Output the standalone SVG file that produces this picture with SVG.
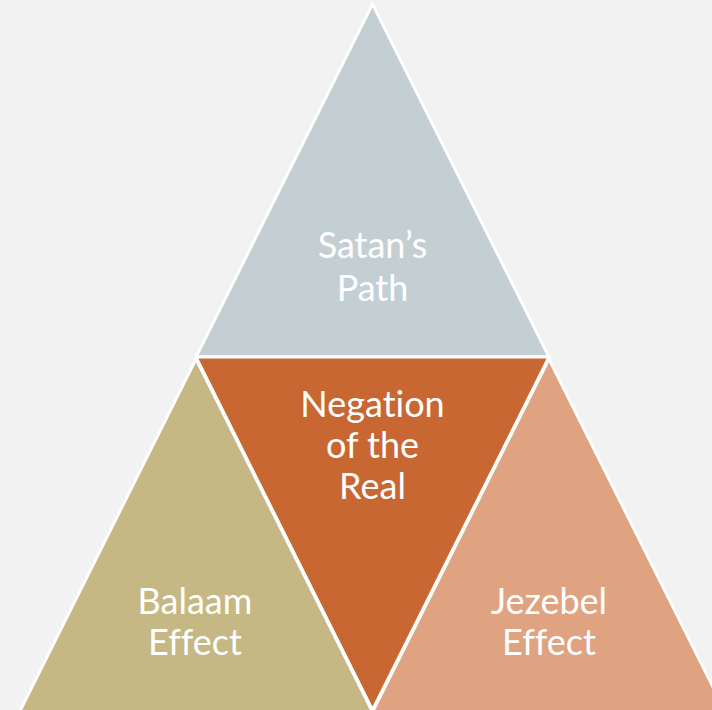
<svg xmlns="http://www.w3.org/2000/svg" width="712" height="710" viewBox="0 0 712 710">
<style>
.tri{stroke:#ffffff;stroke-width:3;stroke-linejoin:miter}
.lbl{font-family:Lato,"Open Sans","Liberation Sans",sans-serif;font-size:36px;fill:#ffffff;text-anchor:middle;font-variant-ligatures:none;font-feature-settings:"liga" 0}
</style>
<rect width="712" height="710" fill="#F2F2F2"/>
<g id="satan">
<polygon class="tri" points="372.5,4 549,357 196,357" fill="#C4CFD3"/>
<text class="lbl"><tspan x="372.5" y="258">Satan’s</tspan><tspan x="372.5" y="301">Path</tspan></text>
</g>
<g id="balaam">
<polygon class="tri" points="196,359 373,713 19,713" fill="#C5B884"/>
<text class="lbl"><tspan x="195" y="614">Balaam</tspan><tspan x="195" y="655">Effect</tspan></text>
</g>
<g id="jezebel">
<polygon class="tri" points="549,359 726,713 372,713" fill="#E0A382"/>
<text class="lbl"><tspan x="549" y="614">Jezebel</tspan><tspan x="549" y="655">Effect</tspan></text>
</g>
<g id="negation">
<polygon class="tri" points="196,357 549,357 372.5,710" fill="#C86731"/>
<text class="lbl"><tspan x="372.5" y="417">Negation</tspan><tspan x="372.5" y="458">of the</tspan><tspan x="372.5" y="499">Real</tspan></text>
</g>
<g id="connectors"/>
</svg>
